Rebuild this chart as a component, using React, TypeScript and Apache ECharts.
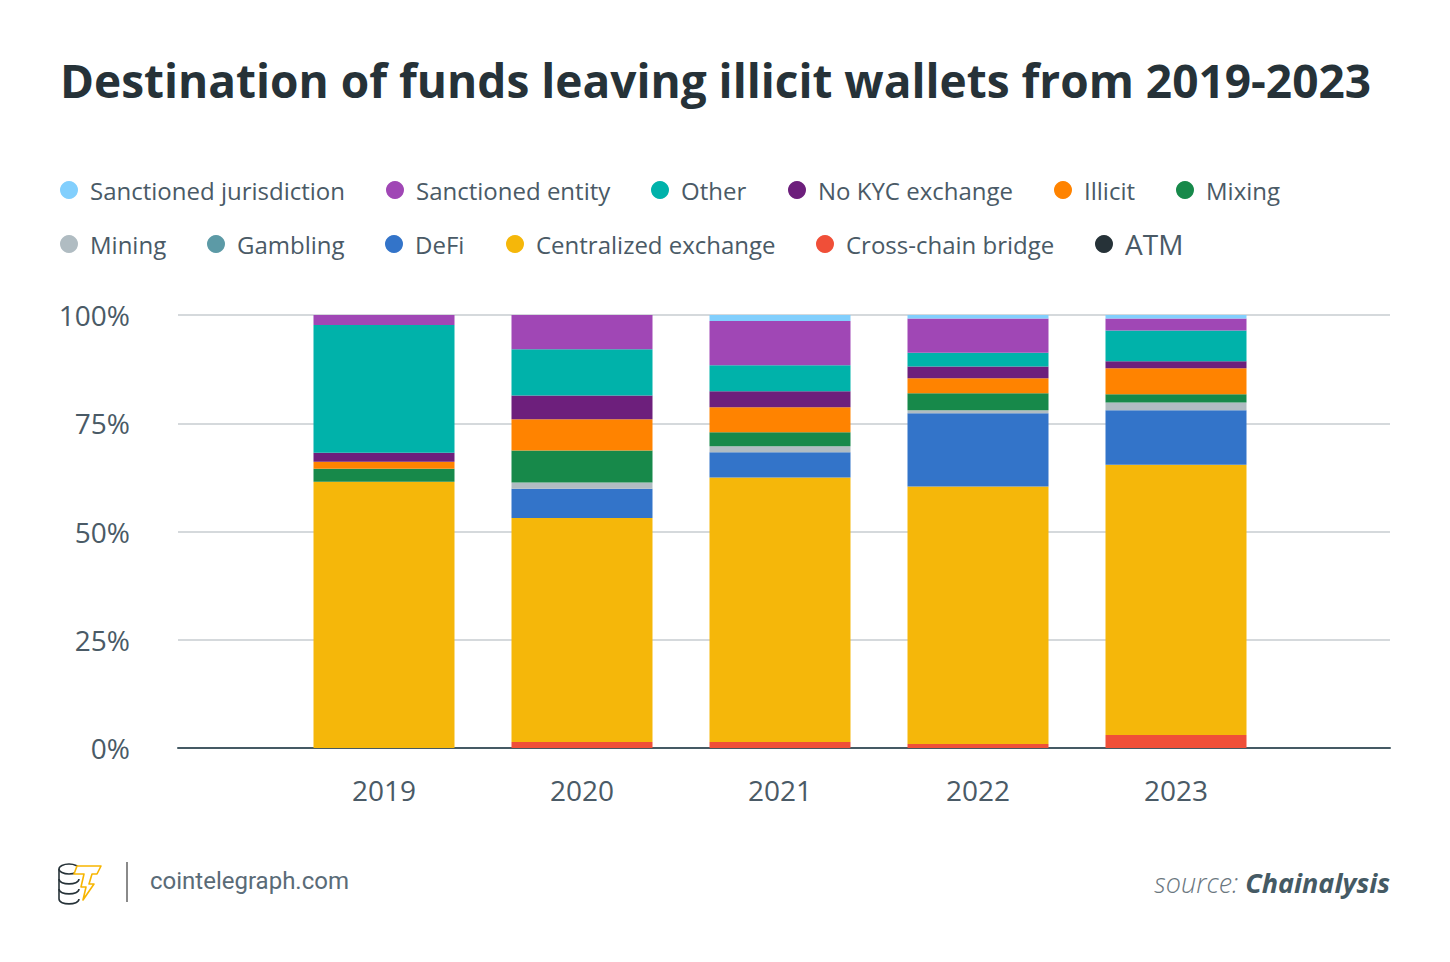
import React, { useEffect, useRef } from "react";
import * as echarts from "echarts";

const years = ["2019", "2020", "2021", "2022", "2023"];
const yTicks = [0, 25, 50, 75, 100];

// stacked from bottom to top
const atm = [0, 0, 0, 0, 0];
const crossChainBridge = [0, 1.4, 1.4, 0.9, 3.0];
const centralizedExchange = [61.5, 51.7, 61.1, 59.5, 62.4];
const defi = [0, 6.8, 5.8, 16.9, 12.6];
const gambling = [0, 0, 0, 0, 0];
const mining = [0, 1.4, 1.4, 0.7, 1.8];
const mixing = [3.0, 7.4, 3.2, 3.9, 1.9];
const illicit = [1.6, 7.2, 5.8, 3.5, 6.0];
const noKycExchange = [2.1, 5.5, 3.7, 2.7, 1.6];
const other = [29.5, 10.7, 6.0, 3.2, 7.1];
const sanctionedEntity = [2.3, 7.9, 10.2, 7.9, 2.8];
const sanctionedJurisdiction = [0, 0, 1.4, 0.8, 0.8];

const legendOrder = [
  "Sanctioned jurisdiction",
  "Sanctioned entity",
  "Other",
  "No KYC exchange",
  "Illicit",
  "Mixing",
  "Mining",
  "Gambling",
  "DeFi",
  "Centralized exchange",
  "Cross-chain bridge",
  "ATM",
];

const stackSeries: { name: string; data: number[]; color: string }[] = [
  { name: "ATM", data: atm, color: "#263238" },
  { name: "Cross-chain bridge", data: crossChainBridge, color: "#f04f38" },
  { name: "Centralized exchange", data: centralizedExchange, color: "#f5b70a" },
  { name: "DeFi", data: defi, color: "#3374c9" },
  { name: "Gambling", data: gambling, color: "#5c9aa6" },
  { name: "Mining", data: mining, color: "#b0bcc2" },
  { name: "Mixing", data: mixing, color: "#17894a" },
  { name: "Illicit", data: illicit, color: "#ff8300" },
  { name: "No KYC exchange", data: noKycExchange, color: "#6d1f7c" },
  { name: "Other", data: other, color: "#00b2aa" },
  { name: "Sanctioned entity", data: sanctionedEntity, color: "#a047b5" },
  { name: "Sanctioned jurisdiction", data: sanctionedJurisdiction, color: "#82cffd" },
];

// legend icon centre x per item (layout)
const legendX = [71, 397, 662, 799, 1065, 1187, 71, 218, 396, 517, 827, 1106];

const TEXT = "#4a5a66";
const FONT = "'Open Sans', 'Noto Sans', sans-serif";

export default function App() {
  const ref = useRef<HTMLDivElement>(null);

  useEffect(() => {
    if (!ref.current) return;
    const chart = echarts.init(ref.current, null, { renderer: "svg" });

    const legends = legendOrder.map((name, i) => {
      const row = i < 6 ? 0 : 1;
      const isAtm = name === "ATM";
      return {
        left: legendX[i] - 16,
        top: row === 0 ? 171 : 225,
        itemWidth: 32,
        itemHeight: 18,
        itemGap: 0,
        icon: "circle",
        selectedMode: false,
        data: [name],
        textStyle: {
          fontFamily: FONT,
          fontSize: isAtm ? 28 : 24,
          color: TEXT,
          lineHeight: 28,
        },
      };
    });

    const coinY = [869, 879, 889];

    chart.setOption({
      animation: false,
      backgroundColor: "#ffffff",
      title: {
        text: "Destination of funds leaving illicit wallets from 2019-2023",
        left: 55,
        top: 52,
        textStyle: {
          fontFamily: FONT,
          fontWeight: "bold",
          fontSize: 46,
          color: "#263238",
        },
      },
      legend: legends,
      grid: [
        { left: 178, right: 60, top: 315, bottom: 214 },
        { left: 285, right: 175, top: 315, bottom: 214 },
      ],
      xAxis: [
        {
          type: "category",
          gridIndex: 0,
          data: [""],
          axisLine: { show: true, lineStyle: { color: "#455a64", width: 2 } },
          axisTick: { show: false },
          axisLabel: { show: false },
          splitLine: { show: false },
        },
        {
          type: "category",
          gridIndex: 1,
          data: years,
          axisLine: { show: false },
          axisTick: { show: false },
          axisLabel: {
            fontFamily: FONT,
            fontSize: 28,
            color: TEXT,
            margin: 28,
          },
        },
      ],
      yAxis: [
        {
          type: "value",
          gridIndex: 0,
          min: yTicks[0],
          max: yTicks[yTicks.length - 1],
          interval: 25,
          axisLine: { show: false },
          axisTick: { show: false },
          axisLabel: {
            formatter: "{value}%",
            fontFamily: FONT,
            fontSize: 28,
            color: TEXT,
            margin: 48,
          },
          splitLine: { lineStyle: { color: "#d5d9dc", width: 2 } },
        },
        {
          type: "value",
          gridIndex: 1,
          min: 0,
          max: 100,
          interval: 25,
          show: false,
          splitLine: { show: false },
        },
      ],
      series: stackSeries.map((s) => ({
        name: s.name,
        type: "bar",
        stack: "total",
        xAxisIndex: 1,
        yAxisIndex: 1,
        barWidth: 141,
        data: s.data,
        itemStyle: { color: s.color },
        emphasis: { disabled: true },
        z: 3,
      })),
      graphic: [
        // coin stack
        ...coinY.map((y) => ({
          type: "bezierCurve",
          shape: { x1: 59, y1: y + 10, cpx1: 59, cpy1: y + 16.5, cpx2: 79, cpy2: y + 16.5, x2: 79, y2: y + 10 },
          style: { stroke: "#263238", lineWidth: 1.6, fill: "none" },
          z: 10,
        })),
        {
          type: "line",
          shape: { x1: 59, y1: 869, x2: 59, y2: 899 },
          style: { stroke: "#263238", lineWidth: 1.6 },
          z: 10,
        },
        {
          type: "ellipse",
          shape: { cx: 69, cy: 869, rx: 10, ry: 5 },
          style: { stroke: "#263238", lineWidth: 1.6, fill: "#ffffff" },
          z: 10,
        },
        // lightning T
        {
          type: "polygon",
          shape: {
            points: [
              [77, 866],
              [101, 866],
              [97, 874],
              [92, 874],
              [89, 884],
              [94, 884],
              [83, 900],
              [86, 887],
              [81, 887],
              [84, 874],
              [74, 874],
            ],
          },
          style: { stroke: "#f7b500", lineWidth: 1.6, fill: "#ffffff", lineJoin: "round" },
          z: 11,
        },
        {
          type: "line",
          shape: { x1: 127, y1: 862, x2: 127, y2: 902 },
          style: { stroke: "#8a8a8a", lineWidth: 2 },
          z: 10,
        },
        {
          type: "text",
          x: 150,
          y: 881,
          style: {
            text: "cointelegraph.com",
            fontFamily: "Roboto, sans-serif",
            fontSize: 24,
            fill: "#5a6b77",
            textVerticalAlign: "middle",
            textAlign: "left",
          },
          z: 10,
        },
        {
          type: "text",
          x: 1390,
          y: 882,
          style: {
            text: "{a|source: }{b|Chainalysis}",
            textAlign: "right",
            textVerticalAlign: "middle",
            rich: {
              a: {
                fontFamily: FONT,
                fontStyle: "italic",
                fontWeight: 300,
                fontSize: 27,
                fill: "#6b7780",
                color: "#6b7780",
              },
              b: {
                fontFamily: FONT,
                fontStyle: "italic",
                fontWeight: "bold",
                fontSize: 27,
                fill: "#455a64",
                color: "#455a64",
              },
            },
          },
          z: 10,
        },
      ],
    });

    return () => chart.dispose();
  }, []);

  return (
    <div
      ref={ref}
      style={{ position: "fixed", left: 0, top: 0, width: 1450, height: 962, background: "#fff" }}
    />
  );
}
